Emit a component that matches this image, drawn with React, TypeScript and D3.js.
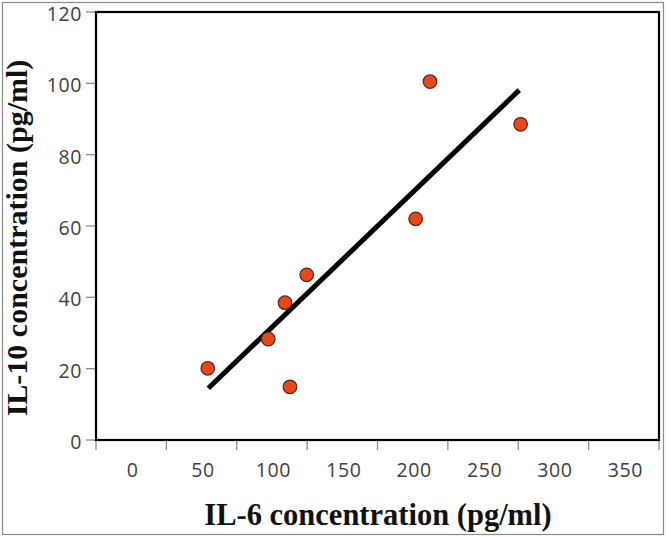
import React from "react";
import * as d3 from "d3";

const il6Values = [54.4, 97.4, 109.3, 112.8, 124.7, 202.1, 212.3, 276.7];
const il10Values = [20.1, 28.3, 38.5, 14.9, 46.3, 62.0, 100.5, 88.5];
const trendX = [54.8, 275.7];
const trendY = [14.5, 98.1];
const xTickMarks = [-25, 25, 75, 125, 175, 225, 275, 325, 375];
const xTickLabels = [0, 50, 100, 150, 200, 250, 300, 350];
const yTicks = [0, 20, 40, 60, 80, 100, 120];

const W = 666;
const H = 537;
const left = 96;
const right = 659;
const top = 12;
const bottom = 440;

export default function App() {
  const x = d3.scaleLinear().domain([-25, 375]).range([left, right]);
  const y = d3.scaleLinear().domain([0, 120]).range([bottom, top]);
  const line = d3
    .line<number>()
    .x((d) => x(trendX[d]))
    .y((d) => y(trendY[d]));
  const tickColor = "#8c8c8c";
  const labelFont = "'Open Sans', sans-serif";
  return (
    <svg
      width={W}
      height={H}
      style={{ position: "absolute", left: 0, top: 0, background: "#fff" }}
    >
      <rect x={2.5} y={2.5} width={661} height={532} fill="#fff" stroke="#8a8a8a" strokeWidth={1.2} />
      {yTicks.map((t) => (
        <g key={"y" + t}>
          <line x1={left - 10} x2={left} y1={y(t)} y2={y(t)} stroke={tickColor} strokeWidth={1.3} />
          <text
            x={82}
            y={y(t) + 2}
            dy="0.36em"
            textAnchor="end"
            fontFamily={labelFont}
            fontSize={19.5}
            fill="#404040"
            letterSpacing={0.6}
          >
            {t}
          </text>
        </g>
      ))}
      {xTickMarks.map((t) => (
        <line key={"xt" + t} x1={x(t)} x2={x(t)} y1={bottom} y2={bottom + 10} stroke={tickColor} strokeWidth={1.3} />
      ))}
      {xTickLabels.map((t) => (
        <text
          key={"xl" + t}
          x={x(t) + 1.5}
          y={477}
          textAnchor="middle"
          fontFamily={labelFont}
          fontSize={19.5}
          fill="#404040"
          letterSpacing={0.6}
        >
          {t}
        </text>
      ))}
      <rect x={left} y={top} width={right - left} height={bottom - top} fill="none" stroke="#000" strokeWidth={2.2} />
      <path d={line([0, 1]) || ""} stroke="#000" strokeWidth={5} fill="none" />
      {il6Values.map((v, i) => (
        <circle key={i} cx={x(v)} cy={y(il10Values[i])} r={6.8} fill="#E8461B" stroke="#5b2414" strokeWidth={1.2} />
      ))}
      <text
        x={378}
        y={525}
        textAnchor="middle"
        fontFamily="'Liberation Serif', serif"
        fontWeight="bold"
        fontSize={30.5}
        fill="#111"
      >
        IL-6 concentration (pg/ml)
      </text>
      <text
        transform={`translate(27,238) rotate(-90)`}
        textAnchor="middle"
        fontFamily="'Liberation Serif', serif"
        fontWeight="bold"
        fontSize={30}
        fill="#111"
      >
        IL-10 concentration (pg/ml)
      </text>
    </svg>
  );
}
